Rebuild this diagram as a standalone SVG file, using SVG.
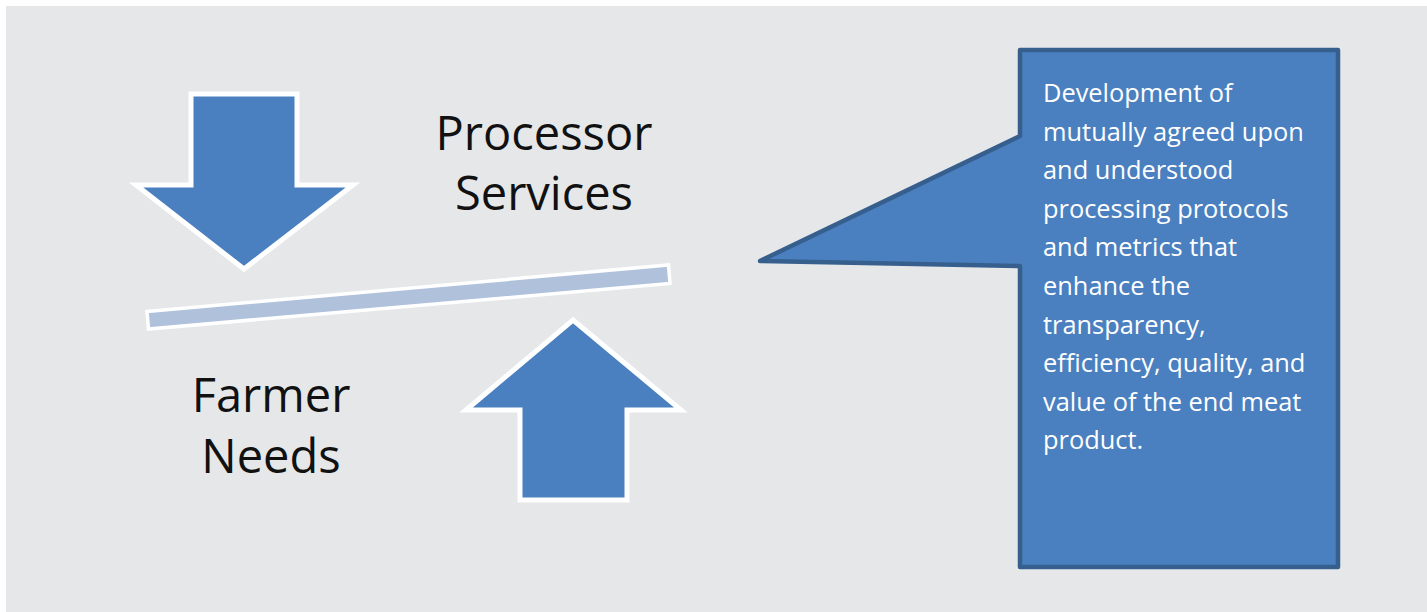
<svg xmlns="http://www.w3.org/2000/svg" width="1427" height="612" viewBox="0 0 1427 612">
<style>
.arrow{fill:#4A80BF;stroke:#FFFFFF;stroke-width:5;stroke-linejoin:miter}
.lbl{font-family:"Open Sans","Liberation Sans",sans-serif;font-size:47px;fill:#111111;text-anchor:middle}
.ctext{font-family:"Open Sans","Liberation Sans",sans-serif;font-size:25.4px;fill:#FFFFFF}
</style>
<rect x="0" y="0" width="1427" height="612" fill="#FFFFFF"/>
<rect x="6" y="6" width="1421" height="606" fill="#E6E7E9"/>
<g id="down-arrow">
<polygon class="arrow" points="191,94 297,94 297,185 353,185 244,269 136,185 191,185"/>
</g>
<g id="balance-bar">
<polygon points="147,311.5 668.5,265 670,283.5 148.5,329" fill="#B0C1DC" stroke="#FFFFFF" stroke-width="3.5"/>
</g>
<g id="up-arrow">
<polygon class="arrow" points="573,320 681,410 627,410 627,500 520,500 520,410 466,410"/>
</g>
<g id="processor-services">
<text class="lbl" x="544" y="150">Processor</text>
<text class="lbl" x="544" y="210">Services</text>
</g>
<g id="farmer-needs">
<text class="lbl" x="271" y="412">Farmer</text>
<text class="lbl" x="271" y="473">Needs</text>
</g>
<g id="callout">
<polygon points="1020,50 1338,50 1338,567 1020,567 1020,266 760,261 1020,136" fill="#4A80BF" stroke="#365F8E" stroke-width="4.5" stroke-linejoin="round"/>
<text class="ctext" x="1043" y="102">Development of</text>
<text class="ctext" x="1043" y="141">mutually agreed upon</text>
<text class="ctext" x="1043" y="179">and understood</text>
<text class="ctext" x="1043" y="218">processing protocols</text>
<text class="ctext" x="1043" y="256">and metrics that</text>
<text class="ctext" x="1043" y="295">enhance the</text>
<text class="ctext" x="1043" y="334">transparency,</text>
<text class="ctext" x="1043" y="372">efficiency, quality, and</text>
<text class="ctext" x="1043" y="411">value of the end meat</text>
<text class="ctext" x="1043" y="449">product.</text>
</g>
<g id="connectors"></g>
</svg>
